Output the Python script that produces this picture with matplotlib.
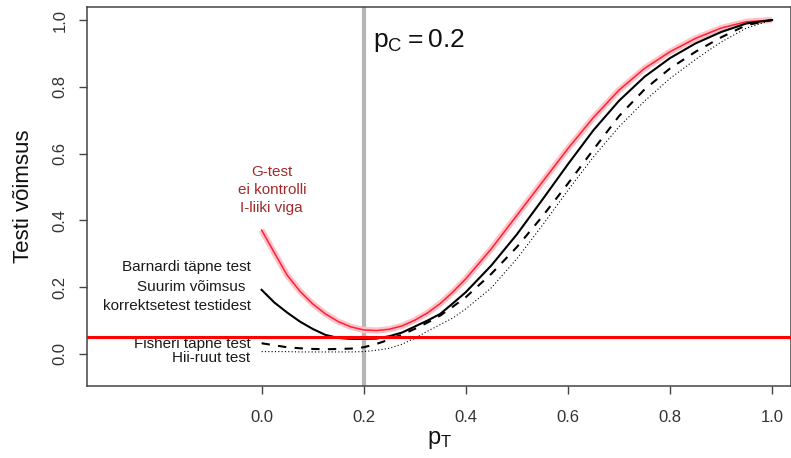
import matplotlib
matplotlib.use("Agg")
import matplotlib.pyplot as plt

plt.rcParams['font.family'] = ['Liberation Sans', 'DejaVu Sans']

# p_T grid
p_t = [0.000, 0.025, 0.050, 0.075, 0.100, 0.125, 0.150, 0.175, 0.200, 0.225,
       0.250, 0.275, 0.300, 0.325, 0.350, 0.375, 0.400, 0.450, 0.500, 0.550,
       0.600, 0.650, 0.700, 0.750, 0.800, 0.850, 0.900, 0.950, 1.000]

g_test = [0.371, 0.303, 0.236, 0.188, 0.150, 0.120, 0.097, 0.081, 0.072, 0.070,
          0.074, 0.084, 0.101, 0.123, 0.151, 0.186, 0.225, 0.315, 0.415, 0.515,
          0.615, 0.708, 0.790, 0.855, 0.905, 0.945, 0.976, 0.995, 1.000]
barnard = [0.192, 0.154, 0.124, 0.097, 0.075, 0.057, 0.048, 0.045, 0.045, 0.046,
           0.053, 0.064, 0.082, 0.100, 0.120, 0.152, 0.185, 0.265, 0.358, 0.462,
           0.568, 0.670, 0.758, 0.830, 0.886, 0.930, 0.964, 0.990, 1.000]
fisher = [0.032, 0.026, 0.020, 0.017, 0.015, 0.014, 0.015, 0.016, 0.020, 0.030,
          0.043, 0.058, 0.075, 0.094, 0.115, 0.142, 0.170, 0.240, 0.320, 0.412,
          0.510, 0.612, 0.712, 0.792, 0.855, 0.905, 0.948, 0.985, 1.000]
chisq = [0.007, 0.007, 0.007, 0.006, 0.006, 0.006, 0.006, 0.006, 0.007, 0.011,
         0.017, 0.029, 0.047, 0.068, 0.088, 0.108, 0.135, 0.198, 0.285, 0.385,
         0.490, 0.590, 0.680, 0.757, 0.825, 0.882, 0.934, 0.976, 1.000]

alpha_level = 0.05
p_c = 0.2
x_ticks = [0.0, 0.2, 0.4, 0.6, 0.8, 1.0]
y_ticks = [0.0, 0.2, 0.4, 0.6, 0.8, 1.0]

fig = plt.figure(figsize=(7.91, 4.58), dpi=100)
ax = fig.add_axes([87/791, 1-386/458, 1-87/791, (386-7)/458])
ax.set_xlim(-0.342, 1.037)
ax.set_ylim(-0.096, 1.039)

ax.axvline(p_c, color='#b5b5b5', lw=3.0, zorder=1)
ax.axhline(alpha_level, color='#ff0000', lw=2.2, zorder=5)

ax.plot(p_t, g_test, color='#ffc2ca', lw=4.5, solid_capstyle='butt', zorder=2)
ax.plot(p_t, g_test, color='#ff2030', lw=1.1, zorder=3)
ax.plot(p_t, barnard, color='black', lw=1.5, zorder=4)
ax.plot(p_t, fisher, color='black', lw=1.5, dashes=(4, 4), zorder=4)
ax.plot(p_t, chisq, color='black', lw=0.8, dashes=(1, 2), zorder=4)

for s in ax.spines.values():
    s.set_color('#444444')
    s.set_linewidth(1.1)

ax.set_xticks(x_ticks)
ax.set_xticklabels([f"{v:.1f}" for v in x_ticks])
ax.set_yticks(y_ticks)
ax.set_yticklabels([f"{v:.1f}" for v in y_ticks], rotation=90, va='center')
ax.tick_params(axis='both', direction='out', length=6, width=1.0, color='#444444',
               labelsize=12, labelcolor='#333333')
ax.tick_params(axis='x', pad=11)
ax.tick_params(axis='y', pad=8)

ax.text(0.218, 0.94, r'$\mathregular{p_C = 0.2}$', fontsize=19, ha='left', va='center',
        color='#111111')

ax.text(0.02, 0.491, 'G-test\nei kontrolli\nI-liiki viga', color='#A52A2A', fontsize=11,
        ha='center', va='center', linespacing=1.35)

lab_color = '#1a1a1a'
ax.text(-0.0215, 0.261, 'Barnardi täpne test', fontsize=11, ha='right', va='center', color=lab_color)
ax.text(-0.0313, 0.2015, 'Suurim võimsus', fontsize=11, ha='right', va='center', color=lab_color)
ax.text(-0.0215, 0.1446, 'korrektsetest testidest', fontsize=11, ha='right', va='center', color=lab_color)
ax.text(-0.0215, 0.029, 'Fisheri täpne test', fontsize=11, ha='right', va='center', color=lab_color)
ax.text(-0.0215, -0.013, 'Hii-ruut test', fontsize=11, ha='right', va='center', color=lab_color)

fig.text(24/791, 1-196/458, 'Testi võimsus', rotation=90, fontsize=16, ha='center', va='center',
         color='#111111')
fig.text(440/791, 1-440/458, r'$\mathregular{p_T}$', fontsize=17, ha='center', va='center',
         color='#111111')

fig.savefig('out.png', dpi=100)
